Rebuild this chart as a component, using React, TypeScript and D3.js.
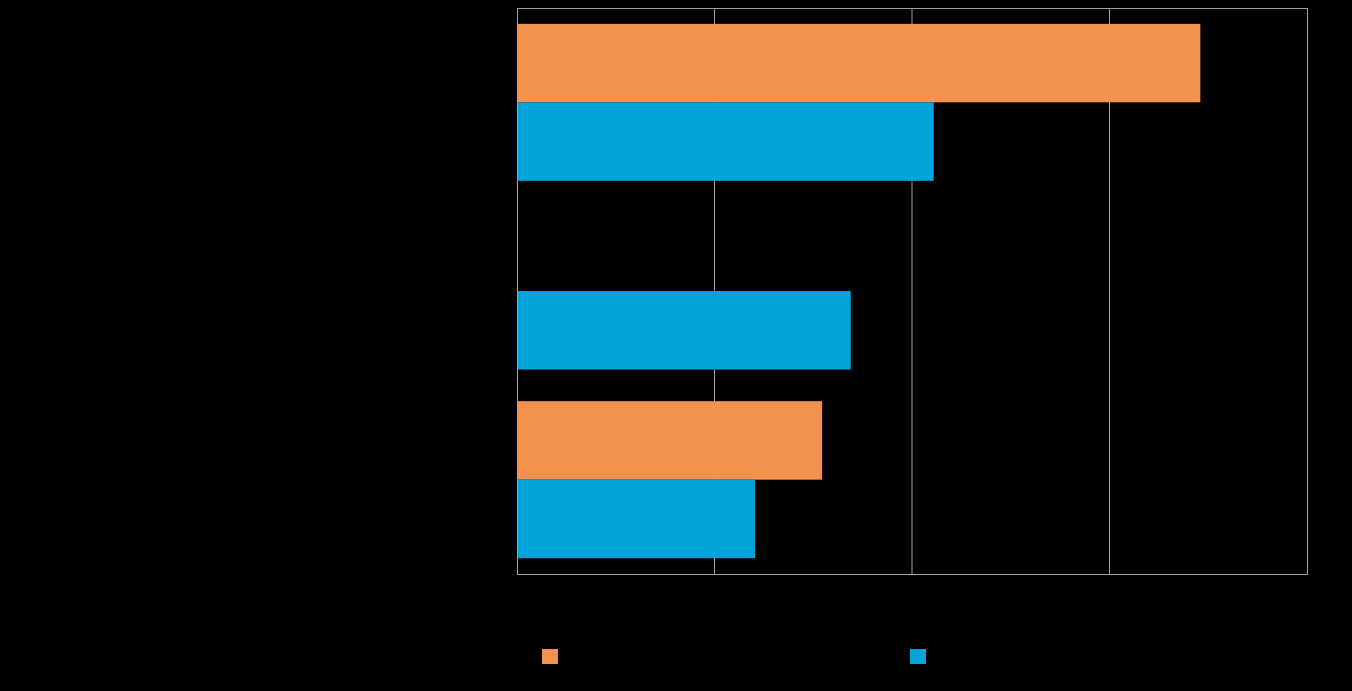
import React from "react";
import * as d3 from "d3";

const categories = ["A", "B", "C"];
const seriesNames = ["Series 1", "Series 2"];
const series1 = [34.6, 0, 15.45];
const series2 = [21.1, 16.9, 12.05];
const xTicks = [0, 10, 20, 30, 40];
const colors = ["#F2924D", "#02A5DA"];

export default function App() {
  const W = 1352, H = 691;
  const left = 517, right = 1307, top = 8, bottom = 574;
  const x = d3.scaleLinear().domain([0, 40]).range([left, right]);
  const y = d3.scaleBand().domain(categories).range([top, bottom]).paddingInner(0.168).paddingOuter(0.084);
  const sub = d3.scaleBand().domain(seriesNames).range([0, y.bandwidth()]);
  const data = [series1, series2];
  return (
    <svg width={W} height={H} style={{ position: "absolute", left: 0, top: 0, background: "#000" }}>
      <rect x={0} y={0} width={W} height={H} fill="#000" />
      {xTicks.slice(1, -1).map((t) => (
        <line key={t} x1={x(t)} x2={x(t)} y1={top} y2={bottom} stroke="#a0a0a0" strokeWidth={1} />
      ))}
      {data.map((vals, si) =>
        vals.map((v, ci) =>
          v > 0 ? (
            <rect
              key={si + "-" + ci}
              x={x(0)}
              y={(y(categories[ci]) as number) + (sub(seriesNames[si]) as number)}
              width={x(v) - x(0)}
              height={sub.bandwidth()}
              fill={colors[si]}
            />
          ) : null
        )
      )}
      <rect x={left + 0.5} y={top + 0.5} width={right - left} height={bottom - top} fill="none" stroke="#a0a0a0" strokeWidth={1} />
      {seriesNames.map((s, i) => (
        <rect key={s} x={542 + i * 368} y={649} width={16} height={15} fill={colors[i]} />
      ))}
    </svg>
  );
}
